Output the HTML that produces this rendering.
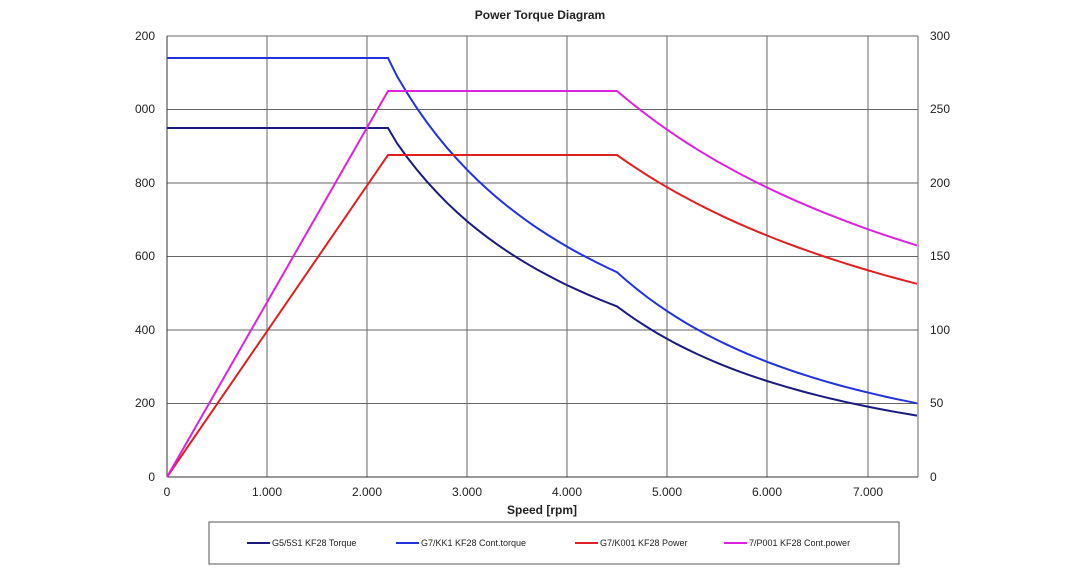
<!DOCTYPE html>
<html><head><meta charset="utf-8"><style>
body{margin:0;background:#fff;width:1080px;height:572px;overflow:hidden;font-family:"Liberation Sans",sans-serif}
</style></head><body>
<svg id="s" width="1080" height="572" xmlns="http://www.w3.org/2000/svg" font-family="Liberation Sans, sans-serif" font-size="12" fill="#222">
<text x="540" y="19" text-anchor="middle" font-size="12" font-weight="bold">Power Torque Diagram</text>
<g stroke="#666" stroke-width="1">
<line x1="167" y1="36" x2="918" y2="36"/><line x1="167" y1="109.5" x2="918" y2="109.5"/><line x1="167" y1="183" x2="918" y2="183"/><line x1="167" y1="256.5" x2="918" y2="256.5"/><line x1="167" y1="330" x2="918" y2="330"/><line x1="167" y1="403.5" x2="918" y2="403.5"/>
<line x1="267" y1="36" x2="267" y2="477"/><line x1="367" y1="36" x2="367" y2="477"/><line x1="467" y1="36" x2="467" y2="477"/><line x1="567" y1="36" x2="567" y2="477"/><line x1="667" y1="36" x2="667" y2="477"/><line x1="767" y1="36" x2="767" y2="477"/><line x1="868" y1="36" x2="868" y2="477"/>
<line x1="918" y1="36" x2="918" y2="477"/>
</g>
<g stroke="#333" stroke-width="1"><line x1="167" y1="36" x2="167" y2="477"/><line x1="167" y1="477" x2="918" y2="477"/></g>
<g text-anchor="end">
<text x="155" y="40">200</text><text x="155" y="113">000</text><text x="155" y="187">800</text><text x="155" y="260">600</text><text x="155" y="334">400</text><text x="155" y="407">200</text><text x="155" y="481">0</text>
</g>
<g text-anchor="start">
<text x="930" y="40">300</text><text x="930" y="113">250</text><text x="930" y="187">200</text><text x="930" y="260">150</text><text x="930" y="334">100</text><text x="930" y="407">50</text><text x="930" y="481">0</text>
</g>
<g text-anchor="middle">
<text x="167" y="496">0</text><text x="267" y="496">1.000</text><text x="367" y="496">2.000</text><text x="467" y="496">3.000</text><text x="567" y="496">4.000</text><text x="667" y="496">5.000</text><text x="767" y="496">6.000</text><text x="868" y="496">7.000</text>
</g>
<text x="542" y="514" text-anchor="middle" font-weight="bold" font-size="12">Speed [rpm]</text>
<rect x="209" y="522" width="690" height="42" fill="none" stroke="#555"/>
<g font-size="9">
<line x1="247" y1="543" x2="270" y2="543" stroke="#1a1a80" stroke-width="2"/><text x="272" y="546">G5/5S1 KF28 Torque</text>
<line x1="396" y1="543" x2="419" y2="543" stroke="#2233dd" stroke-width="2"/><text x="421" y="546">G7/KK1 KF28 Cont.torque</text>
<line x1="575" y1="543" x2="598" y2="543" stroke="#e02020" stroke-width="2"/><text x="600" y="546">G7/K001 KF28 Power</text>
<line x1="724" y1="543" x2="747" y2="543" stroke="#dd22dd" stroke-width="2"/><text x="749" y="546">7/P001 KF28 Cont.power</text>
</g>
<g id="lines" fill="none" stroke-width="2"></g>
</svg>
<script>
function X(r){return 167+r*0.1}
function torque(t0,col){var p=[[167,477-t0],[388,477-t0]];var T45=t0*2200/4500;
for(var r=2300;r<=7500;r+=100){var t=r<=4500?t0*2200/r:T45*Math.pow(4500/r,2);p.push([X(r),477-t]);}return [p,col];}
function power(p0,col){var p=[[167,477],[388,477-p0],[617,477-p0]];
for(var r=4600;r<=7500;r+=100){p.push([X(r),477-p0*4500/r]);}return [p,col];}
var S=[torque(349,'#1a1a80'),torque(419,'#2233dd'),power(322,'#e02020'),power(386,'#dd22dd')];
var g=document.getElementById('lines');
S.forEach(function(s){var pl=document.createElementNS('http://www.w3.org/2000/svg','polyline');
pl.setAttribute('points',s[0].map(function(q){return q[0].toFixed(1)+','+q[1].toFixed(1)}).join(' '));
pl.setAttribute('stroke',s[1]);g.appendChild(pl);});
</script>
</body></html>
